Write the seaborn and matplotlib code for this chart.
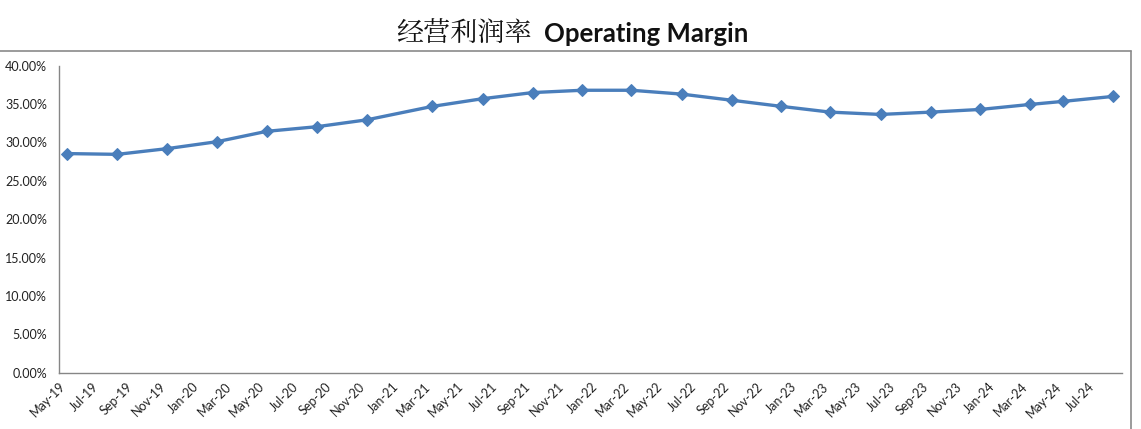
import numpy as np
import pandas as pd
import matplotlib
matplotlib.use("Agg")
import matplotlib.pyplot as plt
from matplotlib.lines import Line2D
from matplotlib.ticker import FuncFormatter
import seaborn as sns

# quarterly operating margin (%)
dates = ["2019-05-16", "2019-08-16", "2019-11-16", "2020-02-15", "2020-05-16",
         "2020-08-16", "2020-11-16", "2021-03-16", "2021-06-16", "2021-09-16",
         "2021-12-16", "2022-03-16", "2022-06-16", "2022-09-16", "2022-12-16",
         "2023-03-16", "2023-06-16", "2023-09-16", "2023-12-16", "2024-03-16",
         "2024-05-16", "2024-08-16"]
margin = [28.55, 28.45, 29.2, 30.1, 31.45, 32.05, 32.95, 34.7, 35.7, 36.5,
          36.8, 36.8, 36.3, 35.5, 34.7, 33.95, 33.65, 33.95, 34.3, 34.95,
          35.35, 36.0]

tick_dates = pd.date_range("2019-05-01", "2024-09-01", freq="2MS")
tick_labels = [d.strftime("%b-%y") for d in tick_dates[:-1]] + [""]

df = pd.DataFrame({"date": pd.to_datetime(dates), "margin": margin})

sns.set_style("white")
plt.rcParams["font.family"] = ["Lato", "Noto Sans CJK SC", "DejaVu Sans"]

fig = plt.figure(figsize=(11.41, 4.29), dpi=100)
ax = fig.add_axes([59 / 1141, 1 - 372.7 / 429, (1122 - 59) / 1141, (372.7 - 65.7) / 429])

sns.lineplot(data=df, x="date", y="margin", ax=ax, color="#4A7EBB",
             linewidth=2.4, marker="D", markersize=6.5,
             markeredgecolor="#4A7EBB", markerfacecolor="#4A7EBB")

ax.set_xlim(tick_dates[0], tick_dates[-1])
ax.set_ylim(0, 40)
ax.set_yticks(np.arange(0, 41, 5))
ax.yaxis.set_major_formatter(FuncFormatter(lambda v, p: f"{v:.2f}%"))
ax.set_xticks(tick_dates)
ax.set_xticklabels(tick_labels, rotation=45, ha="right", rotation_mode="anchor")
ax.set_xlabel("")
ax.set_ylabel("")

for s in ["top", "right"]:
    ax.spines[s].set_visible(False)
for s in ["left", "bottom"]:
    ax.spines[s].set_color("#868686")
    ax.spines[s].set_linewidth(1)
ax.tick_params(axis="both", which="major", direction="out", length=3.5,
               width=1, color="#868686", labelsize=9, labelcolor="#222222")
ax.tick_params(axis="x", pad=2)
ax.tick_params(axis="y", pad=5)

# chart frame (partially cropped in the original)
fig.add_artist(Line2D([0, 1131 / 1141], [1 - 51 / 429, 1 - 51 / 429],
                      transform=fig.transFigure, color="#8a8a8a", lw=1.2))
fig.add_artist(Line2D([1131 / 1141, 1131 / 1141], [0, 1 - 51 / 429],
                      transform=fig.transFigure, color="#8a8a8a", lw=1.2))

fig.text(532 / 1141, 1 - 34 / 429, "经营利润率", ha="right", va="center",
         fontsize=19.5, family=["Noto Serif CJK SC", "Noto Sans CJK SC"], color="#111111")
fig.text(544 / 1141, 1 - 34 / 429, "Operating Margin", ha="left", va="center",
         fontsize=18.5, fontweight="bold", family=["Lato", "DejaVu Sans"], color="#111111")

fig.savefig("out.png", dpi=100)
